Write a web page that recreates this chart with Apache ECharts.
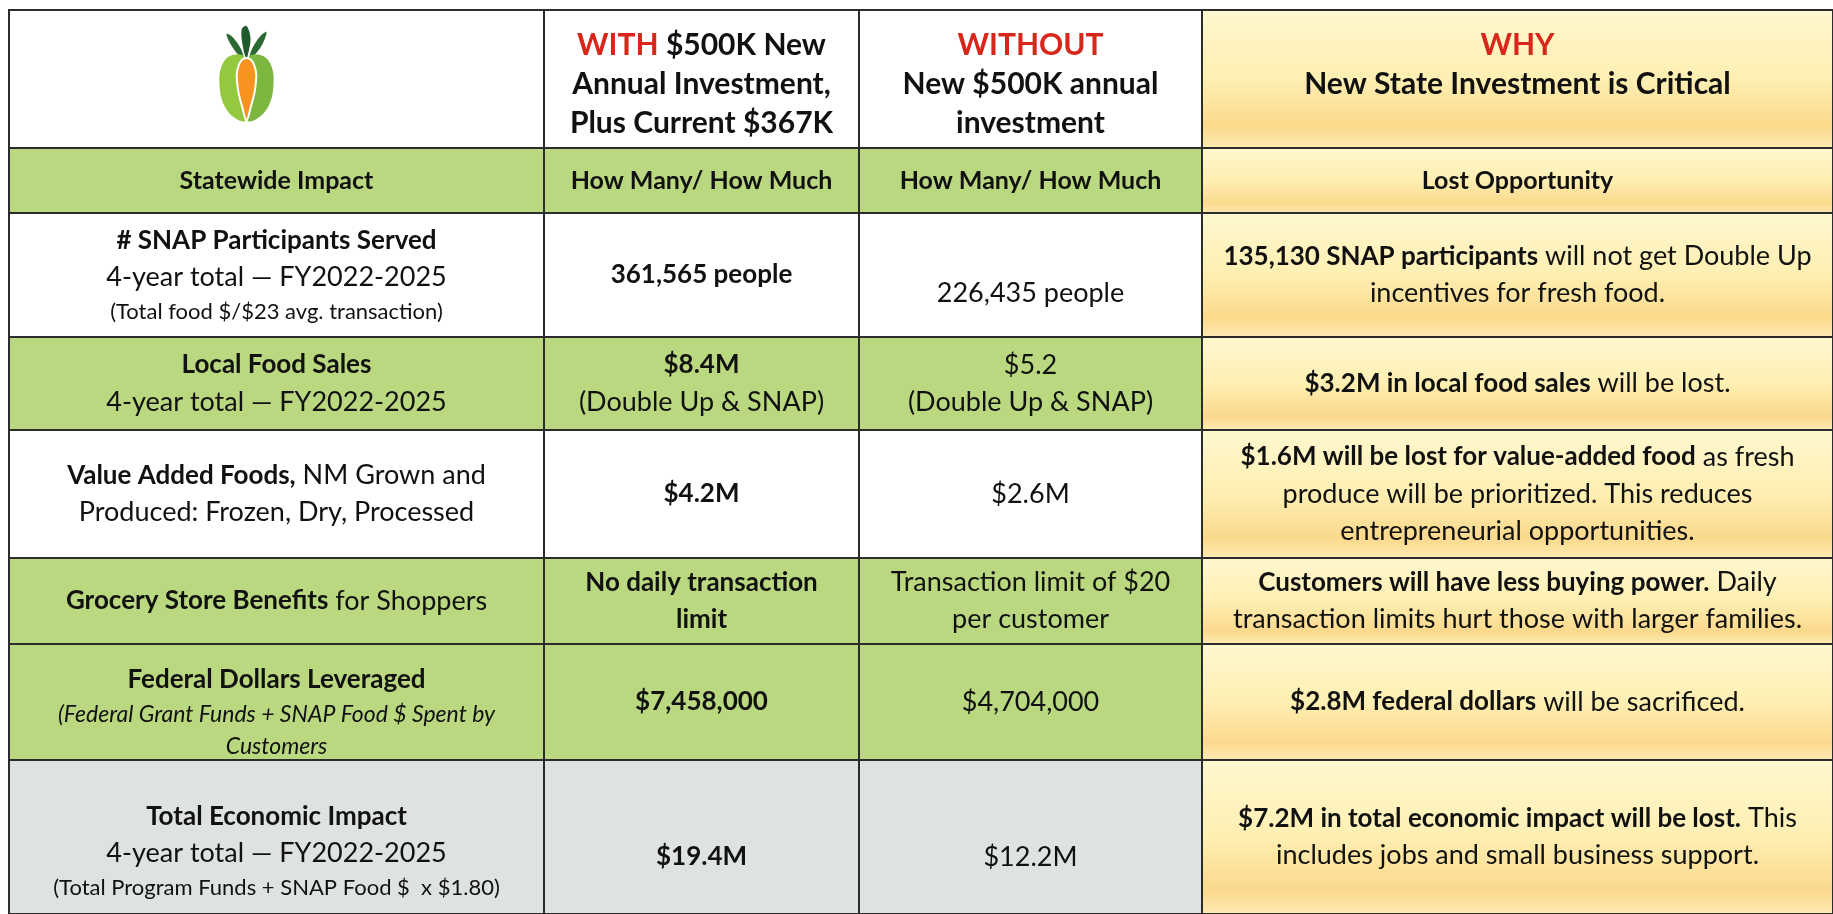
<!DOCTYPE html>
<html>
<head>
<meta charset="utf-8">
<title>Double Up – state investment impact</title>
<script src="https://cdn.jsdelivr.net/npm/echarts@6/dist/echarts.min.js"></script>
<style>
  html, body { margin: 0; padding: 0; background: #fff; }
  #main { width: 1833px; height: 914px; }
</style>
</head>
<body>
<div id="main"></div>
<script>
// ---- table contents ----
const colHeaders = [
  '',
  '{red|WITH} $500K New\nAnnual Investment,\nPlus Current $367K',
  '{red|WITHOUT}\nNew $500K annual\ninvestment',
  '{red|WHY}\nNew State Investment is Critical\n '
]
const subHeaders = ['Statewide Impact', 'How Many/ How Much', 'How Many/ How Much', 'Lost Opportunity']
const rowLabels = [
  '{b|# SNAP Participants Served}\n4-year total — FY2022-2025\n{s|(Total food $/$23 avg. transaction)}',
  '{b|Local Food Sales}\n4-year total — FY2022-2025',
  '{b|Value Added Foods,} NM Grown and\nProduced: Frozen, Dry, Processed',
  '{b|Grocery Store Benefits} for Shoppers',
  '{b|Federal Dollars Leveraged}\n{si|(Federal Grant Funds + SNAP Food $ Spent by}\n{si|Customers}',
  '{b|Total Economic Impact}\n4-year total — FY2022-2025\n{s|(Total Program Funds + SNAP Food $  x $1.80)}'
]
const withInvestment = [
  '{b|361,565 people}',
  '{b|$8.4M}\n(Double Up & SNAP)',
  '{b|$4.2M}',
  '{b|No daily transaction}\n{b|limit}',
  '{b|$7,458,000}',
  '{b|$19.4M}'
]
const withoutInvestment = [
  '226,435 people',
  '$5.2\n(Double Up & SNAP)',
  '$2.6M',
  'Transaction limit of $20\nper customer',
  '$4,704,000',
  '$12.2M'
]
const lostOpportunity = [
  '{b|135,130 SNAP participants} will not get Double Up\nincentives for fresh food.',
  '{b|$3.2M in local food sales} will be lost.',
  '{b|$1.6M will be lost for value-added food} as fresh\nproduce will be prioritized. This reduces\nentrepreneurial opportunities.',
  '{b|Customers will have less buying power.} Daily\ntransaction limits hurt those with larger families.',
  '{b|$2.8M federal dollars} will be sacrificed.',
  '{b|$7.2M in total economic impact will be lost.} This\nincludes jobs and small business support.'
]

// ---- layout / style ----
const tableLeft = 9
const tableTop = 10
const colWidths = [535, 315, 343, 631]
const rowHeights = [138, 65, 124, 93, 128, 86, 116, 154]
const rowShade = ['white', 'green', 'white', 'green', 'white', 'green', 'green', 'gray']
const shadeColor = { white: '#ffffff', green: '#b9d87f', gray: '#dee2e1' }
// small vertical nudges of some cell texts, "col,row": px
const textShift = { '2,2': 18, '1,7': 20, '2,7': 20, '0,7': 14, '1,0': 5, '2,0': 5, '3,0': 5, '0,6': 10 }
const FONT = 'Lato, "Open Sans", sans-serif'

const xEdges = [tableLeft]
colWidths.forEach(w => xEdges.push(xEdges[xEdges.length - 1] + w))
const yEdges = [tableTop]
rowHeights.forEach(h => yEdges.push(yEdges[yEdges.length - 1] + h))

function cellText(c, r) {
  if (r === 0) return colHeaders[c]
  if (r === 1) return subHeaders[c]
  const i = r - 2
  return [rowLabels, withInvestment, withoutInvestment, lostOpportunity][c][i]
}

const cells = []
for (let r = 0; r < rowHeights.length; r++) {
  for (let c = 0; c < colWidths.length; c++) cells.push([c, r])
}

const yellowFill = () => new echarts.graphic.LinearGradient(0, 0, 0, 1, [
  { offset: 0, color: '#fff8d0' },
  { offset: 0.5, color: '#feefb2' },
  { offset: 0.84, color: '#fbd98c' },
  { offset: 1, color: '#fdebb4' }
])

function logo(cx, cy) {
  const pts = arr => arr.map(p => [cx + p[0], cy + p[1]])
  return [
    { type: 'polygon', shape: { smooth: 0.35, points: pts([[-5, -58], [0, -62], [4, -50], [2, -36], [0, -30], [-3, -38]]) }, style: { fill: '#1f5a2c' } },
    { type: 'polygon', shape: { smooth: 0.35, points: pts([[-20, -54], [-15, -52], [-6, -40], [-3, -30], [-8, -33], [-16, -44]]) }, style: { fill: '#2a6a32' } },
    { type: 'polygon', shape: { smooth: 0.35, points: pts([[20, -56], [16, -44], [8, -33], [3, -30], [6, -40], [14, -52]]) }, style: { fill: '#2a6a32' } },
    { type: 'polygon', shape: { smooth: 0.4, points: pts([[-2, -30], [-14, -33], [-24, -24], [-27, -4], [-22, 18], [-10, 31], [-1, 32]]) }, style: { fill: '#93c83f' } },
    { type: 'polygon', shape: { smooth: 0.4, points: pts([[2, -30], [14, -33], [24, -24], [27, -4], [22, 18], [10, 31], [1, 32]]) }, style: { fill: '#7cb83f' } },
    { type: 'polygon', shape: { smooth: 0.45, points: pts([[0, -30], [8, -22], [9, -2], [4, 20], [0, 32], [-4, 20], [-9, -2], [-8, -22]]) }, style: { fill: '#f7931e', stroke: '#ffffff', lineWidth: 2 } }
  ]
}

const chart = echarts.init(document.getElementById('main'))
chart.setOption({
  animation: false,
  backgroundColor: '#ffffff',
  grid: { left: 0, right: 0, top: 0, bottom: 0 },
  xAxis: { type: 'value', min: 0, max: 1833, show: false },
  yAxis: { type: 'value', min: 0, max: 914, inverse: true, show: false },
  series: [{
    type: 'custom',
    silent: true,
    clip: false,
    data: cells,
    renderItem: function (params, api) {
      const c = api.value(0)
      const r = api.value(1)
      const p0 = api.coord([xEdges[c], yEdges[r]])
      const p1 = api.coord([xEdges[c + 1], yEdges[r + 1]])
      const w = p1[0] - p0[0]
      const h = p1[1] - p0[1]
      const fill = c === 3 ? yellowFill() : (r === 0 ? '#ffffff' : shadeColor[rowShade[r]])
      const dy = textShift[c + ',' + r] || 0
      let size = 27
      let weight = 'normal'
      let lh = 37
      if (r === 0) { size = 30; weight = 'bold'; lh = 39 }
      if (r === 1) { size = 25; weight = 'bold' }
      const children = [{
        type: 'rect',
        shape: { x: p0[0], y: p0[1], width: w, height: h },
        style: { fill: fill, stroke: '#2c2c2c', lineWidth: 2 }
      }, {
        type: 'text',
        x: p0[0] + w / 2,
        y: p0[1] + h / 2 + dy,
        style: {
          text: cellText(c, r),
          align: 'center',
          verticalAlign: 'middle',
          fontFamily: FONT,
          fontSize: size,
          fontWeight: weight,
          lineHeight: lh,
          fill: '#111111',
          rich: {
            red: { fontFamily: FONT, fontSize: 30, fontWeight: 'bold', fill: '#d8261b', lineHeight: 39 },
            b: { fontFamily: FONT, fontSize: 26, fontWeight: 'bold', fill: '#111111', lineHeight: 37 },
            s: { fontFamily: FONT, fontSize: 22, fill: '#111111', lineHeight: 32 },
            si: { fontFamily: FONT, fontSize: 23, fontStyle: 'italic', fill: '#111111', lineHeight: 32 }
          }
        }
      }]
      if (r === 0 && c === 0) {
        logo(p0[0] + w / 2 - 30, p0[1] + 78).forEach(el => children.push(el))
      }
      return { type: 'group', children: children }
    }
  }]
})
window.addEventListener('resize', () => chart.resize())
</script>
</body>
</html>
